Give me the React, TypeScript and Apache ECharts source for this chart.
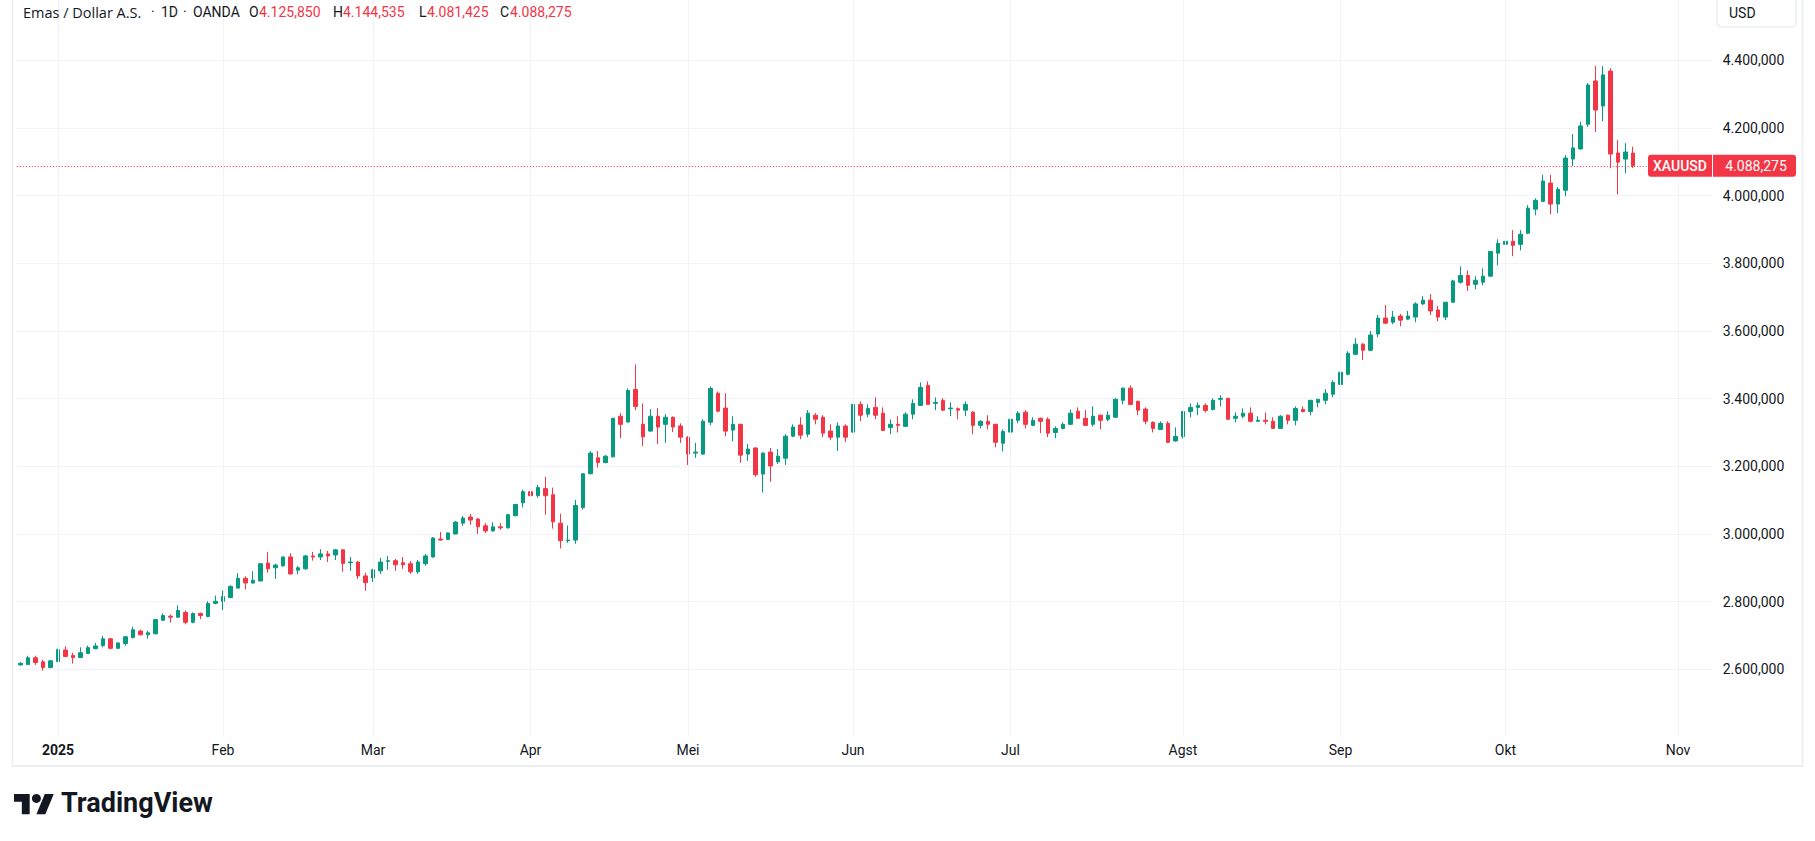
import React, { useEffect, useRef } from "react";
import * as echarts from "echarts";

// ---- calendar (trading days, OANDA XAUUSD daily) ----
const START_DATE = "2024-12-24";
const END_DATE = "2025-11-07"; // includes empty future slots on the right
const HOLIDAYS = ["2024-12-25", "2025-01-01", "2025-04-18"];
const MONTH_LABELS = ["2025", "Feb", "Mar", "Apr", "Mei", "Jun", "Jul", "Agst", "Sep", "Okt", "Nov", "Des"];

// ---- price axis ----
const Y_MIN = 2400;
const Y_MAX = 4600;
const Y_STEP = 200;

// ---- daily candles [open, high, low, close] ----
const DEC_2024 = [
  [2613, 2621, 2611, 2618], [2614, 2640, 2613, 2634], [2634, 2640, 2613, 2620],
  [2622, 2628, 2596, 2605], [2605, 2628, 2603, 2625],
];
const JAN_2025 = [
  [2623, 2661, 2621, 2658], [2657, 2668, 2636, 2638], [2641, 2649, 2617, 2635],
  [2635, 2665, 2633, 2649], [2647, 2670, 2645, 2664], [2661, 2678, 2659, 2669],
  [2670, 2699, 2665, 2690], [2690, 2693, 2659, 2662], [2662, 2679, 2661, 2678],
  [2676, 2699, 2670, 2696], [2694, 2726, 2691, 2717], [2713, 2717, 2700, 2702],
  [2702, 2714, 2691, 2708], [2705, 2748, 2703, 2747], [2745, 2765, 2743, 2759],
  [2757, 2762, 2738, 2754], [2754, 2789, 2752, 2774], [2768, 2774, 2733, 2739],
  [2739, 2768, 2736, 2765], [2765, 2768, 2748, 2759], [2756, 2801, 2754, 2795],
  [2795, 2818, 2792, 2801],
];
const FEB_2025 = [
  [2801, 2833, 2775, 2815], [2812, 2848, 2810, 2845], [2840, 2884, 2839, 2869],
  [2869, 2875, 2836, 2855], [2855, 2890, 2853, 2863], [2861, 2914, 2860, 2912],
  [2914, 2946, 2885, 2897], [2900, 2912, 2867, 2908], [2906, 2933, 2903, 2932],
  [2932, 2943, 2880, 2882], [2893, 2905, 2881, 2900], [2897, 2938, 2894, 2935],
  [2935, 2947, 2921, 2932], [2932, 2955, 2923, 2941], [2941, 2950, 2917, 2935],
  [2938, 2956, 2923, 2953], [2953, 2955, 2888, 2913], [2915, 2932, 2891, 2917],
  [2917, 2920, 2867, 2876], [2876, 2885, 2832, 2856],
];
const MAR_2025 = [
  [2870, 2897, 2858, 2894], [2891, 2929, 2882, 2917], [2919, 2935, 2894, 2921],
  [2921, 2926, 2891, 2909], [2915, 2932, 2897, 2909], [2912, 2920, 2882, 2888],
  [2888, 2923, 2882, 2917], [2912, 2941, 2906, 2935], [2932, 2991, 2930, 2988],
  [2985, 3006, 2980, 2982], [2984, 3004, 2982, 3003], [3000, 3038, 2999, 3035],
  [3032, 3053, 3024, 3047], [3050, 3059, 3027, 3041], [3044, 3047, 3000, 3021],
  [3024, 3032, 3003, 3009], [3009, 3035, 3007, 3021], [3021, 3032, 3012, 3018],
  [3018, 3060, 3016, 3057], [3054, 3089, 3052, 3087], [3092, 3131, 3078, 3125],
];
const APR_2025 = [
  [3125, 3151, 3101, 3113], [3113, 3145, 3107, 3137], [3134, 3169, 3057, 3113],
  [3116, 3137, 3016, 3036], [3032, 3060, 2957, 2980], [2980, 3025, 2974, 2982],
  [2982, 3101, 2971, 3084], [3078, 3180, 3072, 3178], [3178, 3245, 3176, 3239],
  [3225, 3245, 3196, 3211], [3211, 3233, 3209, 3230], [3228, 3343, 3226, 3342],
  [3348, 3357, 3283, 3324], [3331, 3430, 3329, 3424], [3427, 3501, 3366, 3377],
  [3324, 3386, 3260, 3287], [3304, 3369, 3302, 3348], [3348, 3372, 3266, 3316],
  [3324, 3354, 3269, 3345], [3345, 3347, 3301, 3316], [3319, 3327, 3269, 3286],
];
const MAY_2025 = [
  [3286, 3289, 3204, 3236], [3239, 3269, 3225, 3242], [3236, 3339, 3234, 3333],
  [3330, 3436, 3322, 3430], [3416, 3421, 3360, 3363], [3372, 3416, 3289, 3304],
  [3307, 3348, 3274, 3324], [3324, 3326, 3210, 3233], [3236, 3266, 3216, 3251],
  [3254, 3257, 3169, 3175], [3177, 3241, 3122, 3239], [3242, 3254, 3154, 3201],
  [3213, 3251, 3207, 3230], [3224, 3295, 3204, 3289], [3289, 3324, 3286, 3316],
  [3322, 3345, 3280, 3292], [3295, 3366, 3286, 3357], [3351, 3357, 3324, 3339],
  [3345, 3351, 3286, 3298], [3304, 3324, 3277, 3286], [3286, 3330, 3245, 3319],
  [3319, 3324, 3272, 3286],
];
const JUN_2025 = [
  [3301, 3384, 3299, 3383], [3383, 3392, 3333, 3351], [3354, 3383, 3345, 3371],
  [3374, 3404, 3339, 3351], [3357, 3374, 3305, 3306], [3315, 3339, 3295, 3324],
  [3324, 3348, 3300, 3321], [3318, 3360, 3316, 3354], [3354, 3398, 3339, 3386],
  [3380, 3448, 3378, 3433], [3439, 3451, 3382, 3383], [3386, 3404, 3366, 3389],
  [3395, 3401, 3363, 3366], [3370, 3389, 3348, 3372], [3370, 3374, 3339, 3366],
  [3366, 3392, 3348, 3383], [3360, 3363, 3295, 3321], [3321, 3336, 3312, 3333],
  [3333, 3351, 3309, 3324], [3324, 3326, 3256, 3271], [3268, 3309, 3244, 3303],
];
const JUL_2025 = [
  [3301, 3357, 3299, 3339], [3336, 3363, 3327, 3357], [3360, 3366, 3312, 3324],
  [3321, 3345, 3319, 3336], [3342, 3344, 3298, 3333], [3339, 3345, 3286, 3298],
  [3300, 3318, 3283, 3312], [3312, 3330, 3309, 3324], [3324, 3368, 3322, 3357],
  [3363, 3374, 3340, 3342], [3342, 3366, 3319, 3321], [3324, 3377, 3318, 3348],
  [3351, 3353, 3309, 3336], [3339, 3363, 3333, 3351], [3345, 3401, 3343, 3398],
  [3395, 3433, 3383, 3431], [3431, 3439, 3380, 3383], [3392, 3394, 3351, 3366],
  [3369, 3374, 3324, 3333], [3330, 3333, 3300, 3312], [3309, 3333, 3307, 3327],
  [3327, 3333, 3268, 3271], [3275, 3315, 3273, 3288],
];
const AUG_2025 = [
  [3288, 3363, 3282, 3362], [3362, 3386, 3345, 3374], [3374, 3389, 3351, 3380],
  [3380, 3386, 3359, 3365], [3368, 3401, 3365, 3395], [3398, 3410, 3377, 3401],
  [3401, 3402, 3338, 3339], [3342, 3359, 3330, 3348], [3348, 3371, 3342, 3357],
  [3357, 3374, 3330, 3333], [3333, 3348, 3332, 3336], [3336, 3359, 3324, 3333],
  [3333, 3345, 3311, 3312], [3312, 3351, 3311, 3348], [3351, 3353, 3324, 3336],
  [3336, 3377, 3321, 3371], [3368, 3377, 3359, 3362], [3362, 3396, 3351, 3395],
  [3389, 3399, 3374, 3398], [3395, 3428, 3383, 3416], [3413, 3454, 3404, 3448],
];
const SEP_2025 = [
  [3442, 3490, 3437, 3478], [3472, 3540, 3469, 3534], [3531, 3579, 3528, 3561],
  [3561, 3564, 3514, 3543], [3543, 3600, 3540, 3588], [3591, 3647, 3582, 3638],
  [3638, 3677, 3621, 3623], [3626, 3659, 3620, 3641], [3644, 3650, 3614, 3632],
  [3635, 3659, 3632, 3644], [3641, 3685, 3626, 3680], [3680, 3703, 3677, 3691],
  [3691, 3709, 3647, 3659], [3662, 3674, 3629, 3641], [3641, 3686, 3632, 3685],
  [3685, 3751, 3683, 3748], [3744, 3791, 3740, 3764], [3764, 3779, 3718, 3735],
  [3738, 3762, 3723, 3750], [3744, 3785, 3735, 3762], [3762, 3836, 3760, 3835],
  [3830, 3871, 3794, 3859],
];
const OCT_2025 = [
  [3856, 3895, 3853, 3865], [3865, 3898, 3821, 3853], [3856, 3898, 3838, 3886],
  [3889, 3972, 3886, 3963], [3960, 3992, 3942, 3986], [3983, 4061, 3981, 4043],
  [4037, 4061, 3945, 3975], [3975, 4025, 3948, 4019], [4016, 4120, 3998, 4111],
  [4108, 4182, 4087, 4141], [4138, 4218, 4136, 4206], [4211, 4333, 4203, 4327],
  [4339, 4383, 4188, 4253], [4265, 4383, 4220, 4357], [4368, 4377, 4081, 4123],
  [4126, 4164, 4004, 4099], [4108, 4155, 4066, 4129], [4125.85, 4144.535, 4081.425, 4088.275],
];

const SYMBOL = "XAUUSD";
const TITLE = "Emas / Dollar A.S.";
const INTERVAL_TXT = "1D";
const EXCHANGE = "OANDA";
const CURRENCY = "USD";

const UP = "#089981";
const DOWN = "#f23645";
const TEXT = "#131722";
const GRID = "#f0f3fa";
const FONT = "Roboto, 'Noto Sans', sans-serif";
const TITLE_FONT = "'Open Sans', Roboto, sans-serif";

function tradingDays(start: string, end: string, holidays: string[]): string[] {
  const out: string[] = [];
  const d = new Date(start + "T00:00:00Z");
  const e = new Date(end + "T00:00:00Z");
  while (d <= e) {
    const wd = d.getUTCDay();
    const s = d.toISOString().slice(0, 10);
    if (wd !== 0 && wd !== 6 && holidays.indexOf(s) < 0) out.push(s);
    d.setUTCDate(d.getUTCDate() + 1);
  }
  return out;
}

function fmtPrice(v: number, decimals = 3): string {
  const s = v.toFixed(decimals);
  const [i, f] = s.split(".");
  const ii = i.replace(/\B(?=(\d{3})+(?!\d))/g, ".");
  return f ? ii + "," + f : ii;
}

export default function App() {
  const ref = useRef<HTMLDivElement>(null);

  useEffect(() => {
    const el = ref.current;
    if (!el) return;
    const chart = echarts.init(el, null, { renderer: "svg" });

    const categories = tradingDays(START_DATE, END_DATE, HOLIDAYS);
    const rows = [
      ...DEC_2024, ...JAN_2025, ...FEB_2025, ...MAR_2025, ...APR_2025, ...MAY_2025,
      ...JUN_2025, ...JUL_2025, ...AUG_2025, ...SEP_2025, ...OCT_2025,
    ];
    // ECharts candlestick order: [open, close, low, high]
    const candles = rows.map((r) => [r[0], r[3], r[2], r[1]]);
    const last = rows[rows.length - 1];
    const lastClose = last[3];

    const monthStartIdx = new Set<number>();
    for (let i = 1; i < categories.length; i++) {
      if (categories[i].slice(0, 7) !== categories[i - 1].slice(0, 7)) monthStartIdx.add(i);
    }
    const monthStarts = categories.filter((_, i) => monthStartIdx.has(i));

    const nTicks = Math.round((Y_MAX - Y_MIN) / Y_STEP) + 1;
    const splitColors = Array.from({ length: nTicks }, (_, i) => (i === 0 ? "rgba(0,0,0,0)" : GRID));

    const option: any = {
      animation: false,
      backgroundColor: "#ffffff",
      textStyle: { fontFamily: FONT },
      grid: {
        left: 16.75,
        top: -7.37,
        width: 1695,
        height: 744.33,
        containLabel: false,
        outerBoundsMode: "none",
      },
      xAxis: {
        type: "category",
        data: categories,
        boundaryGap: true,
        axisLine: { show: false },
        axisTick: { show: false },
        splitLine: { show: false },
        axisLabel: {
          interval: (index: number) => monthStartIdx.has(index),
          margin: 6,
          color: TEXT,
          fontSize: 14,
          fontFamily: FONT,
          formatter: (value: string) => {
            const m = parseInt(value.slice(5, 7), 10) - 1;
            return m === 0 ? "{y|" + MONTH_LABELS[0] + "}" : MONTH_LABELS[m];
          },
          rich: {
            y: { fontWeight: "bold", fontSize: 14, color: TEXT, fontFamily: FONT },
          },
        },
      },
      yAxis: {
        type: "value",
        position: "right",
        min: Y_MIN,
        max: Y_MAX,
        interval: Y_STEP,
        axisLine: { show: false },
        axisTick: { show: false },
        splitLine: { show: true, lineStyle: { color: splitColors, width: 1 } },
        axisLabel: {
          showMinLabel: false,
          showMaxLabel: false,
          margin: 11,
          color: TEXT,
          fontSize: 14,
          fontFamily: FONT,
          formatter: (v: number) => fmtPrice(v, 3),
        },
      },
      series: [
        {
          type: "line",
          data: [],
          z: 1,
          silent: true,
          markLine: {
            silent: true,
            symbol: ["none", "none"],
            label: { show: false },
            lineStyle: { color: GRID, width: 1, type: "solid" },
            emphasis: { disabled: true },
            data: monthStarts.map((c) => ({ xAxis: c })),
          },
        },
        {
          type: "candlestick",
          z: 3,
          data: candles,
          barWidth: 4,
          itemStyle: {
            color: UP,
            color0: DOWN,
            borderColor: UP,
            borderColor0: DOWN,
            borderWidth: 1,
          },
          markLine: {
            silent: true,
            symbol: ["none", "none"],
            label: { show: false },
            lineStyle: { color: DOWN, width: 1, type: [1, 2] },
            emphasis: { disabled: true },
            data: [{ yAxis: lastClose }],
          },
        },
      ],
    };

    chart.setOption(option);

    const py = chart.convertToPixel({ yAxisIndex: 0 }, lastClose) as number;

    const hdrY = 12;
    const txt = (x: number, text: string, fill: string, font = "14px " + FONT) => ({
      type: "text",
      z: 100,
      style: { x, y: hdrY, text, fill, font, verticalAlign: "middle" },
    });

    const S = 1.12;
    const LX = 14;
    const LY = 789.5;
    const P = (u: number, v: number) => [LX + u * S, LY + v * S];

    const graphics: any[] = [
      // frame
      { type: "line", z: 100, shape: { x1: 12.5, y1: 0, x2: 12.5, y2: 766 }, style: { stroke: "#eceef1", lineWidth: 1.5 } },
      { type: "line", z: 100, shape: { x1: 12, y1: 766, x2: 1803, y2: 766 }, style: { stroke: "#eceef1", lineWidth: 2 } },
      { type: "line", z: 100, shape: { x1: 1802.5, y1: 0, x2: 1802.5, y2: 766 }, style: { stroke: "#eceef1", lineWidth: 1.5 } },
      // header
      txt(23, TITLE, TEXT, "14.5px " + TITLE_FONT),
      txt(151, "·", TEXT),
      txt(161, INTERVAL_TXT, TEXT),
      txt(183, "·", TEXT),
      txt(193, EXCHANGE, TEXT),
      txt(249, "O", TEXT),
      txt(259, fmtPrice(last[0]), DOWN),
      txt(333, "H", TEXT),
      txt(343, fmtPrice(last[1]), DOWN),
      txt(419, "L", TEXT),
      txt(427, fmtPrice(last[2]), DOWN),
      txt(500, "C", TEXT),
      txt(510, fmtPrice(last[3]), DOWN),
      // currency box
      {
        type: "rect", z: 100,
        shape: { x: 1717, y: -4, width: 79, height: 31, r: 4 },
        style: { fill: "#ffffff", stroke: "#e0e3eb", lineWidth: 1 },
      },
      {
        type: "text", z: 101,
        style: { x: 1729, y: 12.5, text: CURRENCY, fill: TEXT, font: "14px " + FONT, verticalAlign: "middle" },
      },
      // last price labels
      {
        type: "rect", z: 100,
        shape: { x: 1648, y: py - 11, width: 64, height: 22, r: [3, 0, 0, 3] },
        style: { fill: DOWN },
      },
      {
        type: "text", z: 101,
        style: { x: 1680, y: py, text: SYMBOL, fill: "#ffffff", font: "500 14px " + FONT, align: "center", verticalAlign: "middle" },
      },
      {
        type: "rect", z: 100,
        shape: { x: 1713, y: py - 11, width: 83, height: 22, r: [0, 3, 3, 0] },
        style: { fill: DOWN },
      },
      {
        type: "text", z: 101,
        style: { x: 1756, y: py, text: fmtPrice(lastClose), fill: "#ffffff", font: "14px " + FONT, align: "center", verticalAlign: "middle" },
      },
      // TradingView logo
      {
        type: "polygon", z: 100,
        shape: { points: [P(14, 22), P(7, 22), P(7, 11), P(0, 11), P(0, 4), P(14, 4)] },
        style: { fill: TEXT },
      },
      {
        type: "polygon", z: 100,
        shape: { points: [P(28, 22), P(20, 22), P(27.5, 4), P(35.5, 4)] },
        style: { fill: TEXT },
      },
      {
        type: "circle", z: 100,
        shape: { cx: LX + 20 * S, cy: LY + 8 * S, r: 4 * S },
        style: { fill: TEXT },
      },
      {
        type: "text", z: 100,
        style: { x: 61, y: 803, text: "TradingView", fill: TEXT, font: "bold 27px " + FONT, verticalAlign: "middle" },
      },
    ];

    chart.setOption({ graphic: graphics });

    return () => {
      chart.dispose();
    };
  }, []);

  return (
    <div
      ref={ref}
      style={{ position: "fixed", left: 0, top: 0, width: 1815, height: 841, background: "#ffffff" }}
    />
  );
}
